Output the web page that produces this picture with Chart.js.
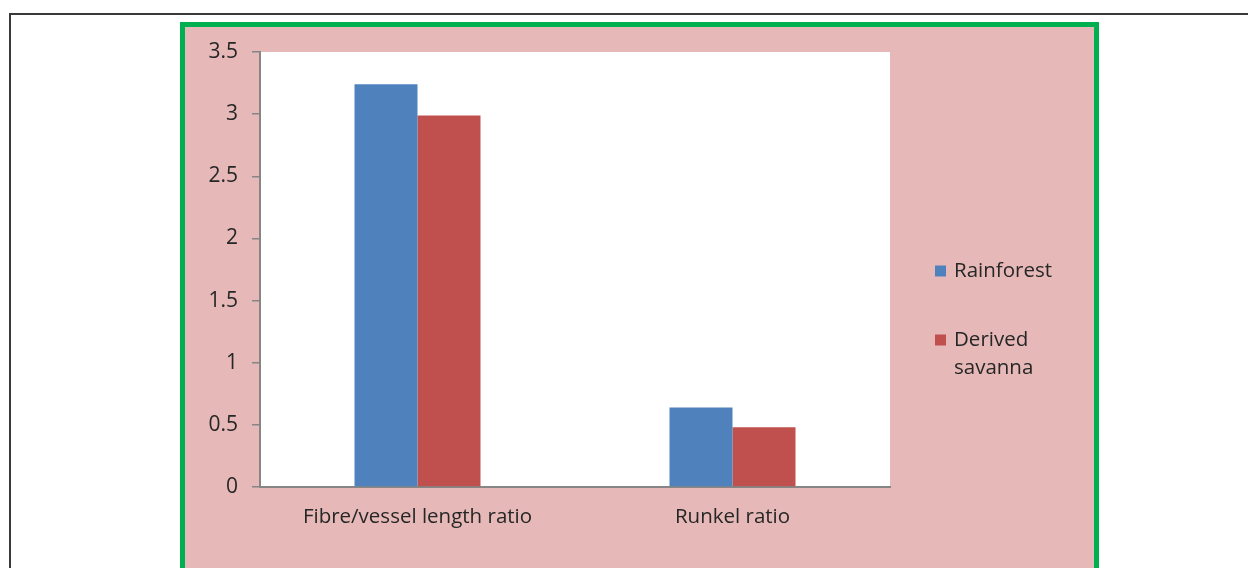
<!DOCTYPE html>
<html>
<head>
<meta charset="utf-8">
<script src="https://cdn.jsdelivr.net/npm/chart.js@4/dist/chart.umd.min.js"></script>
<style>
  html, body { margin: 0; padding: 0; background: #ffffff; }
  #page { position: relative; width: 1248px; height: 568px; overflow: hidden; }
  #frame { position: absolute; left: 9px; top: 13px; width: 1260px; height: 600px;
           border-top: 2px solid #3a3a3a; border-left: 2px solid #3a3a3a; }
  #panel { position: absolute; left: 180px; top: 22px; width: 909px; height: 560px;
           background: #e6b9b8; border: 5px solid #00b050; }
  #chart { position: absolute; left: 0; top: 0; }
</style>
</head>
<body>
<div id="page">
  <div id="frame"></div>
  <div id="panel"></div>
  <canvas id="chart" width="1248" height="568"></canvas>
</div>
<script>
// Categories and series values
const categories = ['Fibre/vessel length ratio', 'Runkel ratio'];
const rainforest = [3.24, 0.64];
const derivedSavanna = [2.99, 0.48];
const seriesNames = ['Rainforest', 'Derived savanna'];
const seriesColors = ['#4f81bd', '#c0504d'];

const FONT = '"Open Sans", sans-serif';
const TEXT = '#262626';
const AXIS = '#868686';

// White plot background behind the bars
const plotBackground = {
  id: 'plotBackground',
  beforeDraw(chart) {
    const { ctx, chartArea: a } = chart;
    ctx.save();
    ctx.fillStyle = '#ffffff';
    ctx.fillRect(a.left, a.top, a.right - a.left, a.bottom - a.top);
    ctx.restore();
  }
};

// Legend on the right, with word-wrapped labels
const sideLegend = {
  id: 'sideLegend',
  afterDraw(chart, args, opts) {
    const { ctx, chartArea: a } = chart;
    ctx.save();
    ctx.font = opts.fontSize + 'px ' + FONT;
    ctx.textBaseline = 'middle';
    ctx.textAlign = 'left';
    let y = opts.top;
    chart.data.datasets.forEach(ds => {
      const words = ds.label.split(' ');
      const lines = [];
      let cur = '';
      words.forEach(w => {
        const t = cur ? cur + ' ' + w : w;
        if (cur && ctx.measureText(t).width > opts.maxWidth) { lines.push(cur); cur = w; }
        else cur = t;
      });
      if (cur) lines.push(cur);
      const x = a.right + opts.offsetX;
      ctx.fillStyle = ds.backgroundColor;
      ctx.fillRect(x, y - opts.box / 2, opts.box, opts.box);
      ctx.fillStyle = TEXT;
      lines.forEach((ln, i) => ctx.fillText(ln, x + opts.box + 8, y + i * opts.lineHeight));
      y += opts.itemGap + (lines.length - 1) * opts.lineHeight;
    });
    ctx.restore();
  }
};

new Chart(document.getElementById('chart'), {
  type: 'bar',
  data: {
    labels: categories,
    datasets: [
      { label: seriesNames[0], data: rainforest, backgroundColor: seriesColors[0] },
      { label: seriesNames[1], data: derivedSavanna, backgroundColor: seriesColors[1] }
    ]
  },
  options: {
    responsive: false,
    animation: false,
    devicePixelRatio: 1,
    layout: { padding: { left: 180, top: 52, right: 358, bottom: 21 } },
    datasets: { bar: { categoryPercentage: 0.4, barPercentage: 1.0, borderWidth: 0 } },
    plugins: {
      legend: { display: false },
      tooltip: { enabled: false },
      sideLegend: { offsetX: 45, top: 271, box: 11, fontSize: 20.5, maxWidth: 120,
                    lineHeight: 28, itemGap: 69 }
    },
    scales: {
      x: {
        grid: { display: false },
        border: { display: true, color: AXIS, width: 2 },
        ticks: { color: TEXT, font: { family: FONT, size: 20.5 }, padding: 10, maxRotation: 0 },
        afterFit(scale) { scale.height = 60; }
      },
      y: {
        min: 0, max: 3.5,
        ticks: { stepSize: 0.5, color: TEXT, font: { family: FONT, size: 21 }, padding: 14,
                 callback: v => String(v) },
        grid: { drawOnChartArea: false, drawTicks: true, tickLength: 8, color: AXIS, lineWidth: 1.5 },
        border: { display: true, color: AXIS, width: 2 },
        afterFit(scale) { scale.width = 80; }
      }
    }
  },
  plugins: [plotBackground, sideLegend]
});
</script>
</body>
</html>
